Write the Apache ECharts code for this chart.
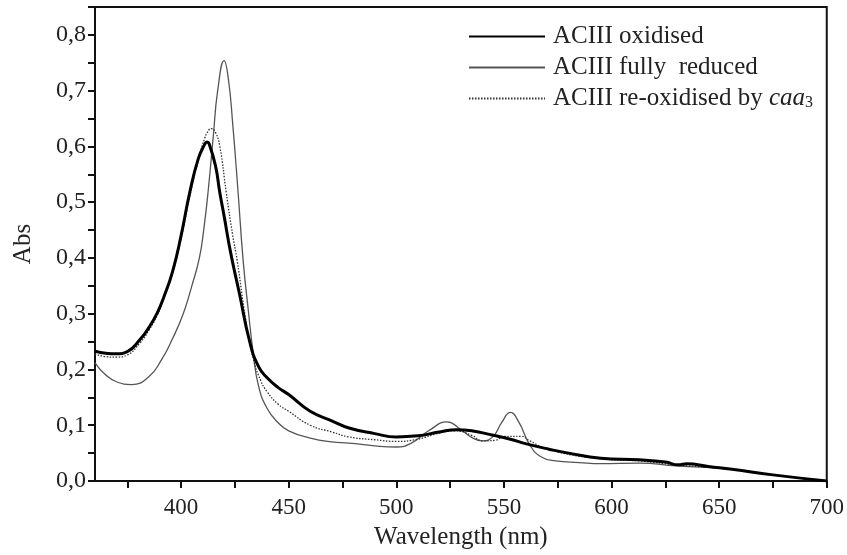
<!DOCTYPE html>
<html style="height: 100%">
<head>
	<meta charset="utf-8">
	<script type="text/javascript" src="https://cdn.jsdelivr.net/npm/echarts@6/dist/echarts.min.js"></script>
	<style>
		#container{
			width: 847px;
			height: 555px;
		}
	</style>
</head>
<body style="height: 100%; margin: 0">
	<div id="container"></div>
	<script type="text/javascript">
		// tick positions / labels
		var xTicks = [375, 400, 425, 450, 475, 500, 525, 550, 575, 600, 625, 650, 675, 700];
		var xLabels = [400, 450, 500, 550, 600, 650, 700];
		var yTicks = [0, 0.05, 0.1, 0.15, 0.2, 0.25, 0.3, 0.35, 0.4, 0.45, 0.5, 0.55, 0.6, 0.65, 0.7, 0.75, 0.8, 0.85];
		var yLabels = [0, 0.1, 0.2, 0.3, 0.4, 0.5, 0.6, 0.7, 0.8];

		var names = ['ACIII oxidised', 'ACIII fully  reduced', 'ACIII re-oxidised by caa3'];

		// ACIII oxidised (thick)
		var oxWl = [360,365,370,375,381,385,389,392,396,400,404,408,411,412,413,416,418,420,423,427,432,436,440,445,450,460,470,478,490,500,510,520,528,535,545,553,560,571,580,595,613,625,631,635,645,656,675,700];
		var oxAbs = [0.233,0.229,0.228,0.232,0.254,0.275,0.302,0.33,0.375,0.44,0.517,0.578,0.604,0.608,0.605,0.565,0.517,0.475,0.41,0.338,0.248,0.205,0.185,0.168,0.155,0.125,0.108,0.095,0.085,0.079,0.081,0.088,0.092,0.09,0.082,0.075,0.067,0.057,0.05,0.041,0.038,0.034,0.029,0.031,0.026,0.021,0.011,0.0];

		// ACIII fully reduced (thin)
		var redWl = [360,365,370,377,385,391,396,401,405,408.5,410.5,412.5,415,417,420,422,424,426.5,428.8,431.2,433.5,436,440,445,450,460,470,478,490,500,507,515,523.6,530,536,540,545,549,553,557,562,567,574,585,595,613,630,656,675,700];
		var redAbs = [0.212,0.19,0.178,0.173,0.187,0.218,0.255,0.3,0.35,0.4,0.45,0.517,0.62,0.7,0.754,0.72,0.64,0.517,0.397,0.307,0.23,0.17,0.13,0.105,0.09,0.077,0.07,0.068,0.063,0.061,0.068,0.09,0.106,0.092,0.076,0.072,0.08,0.105,0.123,0.105,0.065,0.044,0.036,0.033,0.031,0.032,0.027,0.021,0.011,0];

		// ACIII re-oxidised by caa3 (dotted)
		var reWl = [360,365,370,375,381,385,389,392,396,400,404,408,411,413,414,416,418,421,424,426,430,433.5,437,440,445,450,460,470,478,490,500,510,520,527,535,540,546,550,558,562,571,595,613,630,656,675,700];
		var reAbs = [0.228,0.223,0.222,0.226,0.248,0.27,0.298,0.328,0.372,0.435,0.51,0.575,0.615,0.63,0.632,0.625,0.6,0.517,0.44,0.397,0.29,0.22,0.18,0.16,0.138,0.125,0.1,0.088,0.079,0.074,0.071,0.075,0.086,0.09,0.082,0.072,0.073,0.08,0.08,0.072,0.056,0.04,0.036,0.029,0.021,0.011,0];

		function pairs(xs, ys) {
			var out = [];
			for (var i = 0; i < xs.length; i++) {
				out.push([xs[i], ys[i]]);
			}
			return out;
		}

		var font = 'Liberation Serif';
		var myChart = echarts.init(document.getElementById('container'));

		myChart.setOption({
			animation: false,
			backgroundColor: '#fff',
			grid: {
				left: 95,
				right: 19,
				top: 7,
				bottom: 74,
				show: true,
				borderColor: '#111',
				borderWidth: 2
			},
			legend: {
				orient: 'vertical',
				left: 463,
				top: 19,
				itemWidth: 76,
				itemHeight: 14,
				itemGap: 6,
				data: names,
				itemStyle: {opacity: 0},
				textStyle: {
					fontFamily: font,
					fontSize: 25,
					lineHeight: 25,
					color: '#222',
					padding: [0, 0, 0, 3],
					rich: {
						n: {fontFamily: font, fontSize: 25, color: '#222', lineHeight: 25},
						i: {fontFamily: font, fontSize: 25, fontStyle: 'italic', color: '#222', lineHeight: 25},
						s: {fontFamily: font, fontSize: 16, color: '#222', lineHeight: 1, verticalAlign: 'bottom', padding: [7, 0, 0, 0]}
					}
				},
				formatter: function (name) {
					if (name === names[2]) {
						return '{n|ACIII re-oxidised by }{i|caa}{s|3}';
					}
					return name;
				}
			},
			xAxis: {
				type: 'value',
				min: 360,
				max: 700,
				name: 'Wavelength (nm)',
				nameLocation: 'middle',
				nameGap: 44,
				nameTextStyle: {fontFamily: font, fontSize: 25, color: '#222', verticalAlign: 'top'},
				axisLine: {show: true, lineStyle: {color: '#111', width: 2}},
				axisTick: {show: true, inside: false, length: 7, customValues: xTicks, lineStyle: {color: '#111', width: 2}},
				axisLabel: {
					customValues: xLabels,
					margin: 15,
					fontFamily: font,
					fontSize: 23,
					color: '#222'
				},
				splitLine: {show: false}
			},
			yAxis: {
				type: 'value',
				min: 0,
				max: 0.85,
				name: 'Abs',
				nameLocation: 'middle',
				nameGap: 59,
				nameTextStyle: {fontFamily: font, fontSize: 25, color: '#222'},
				axisLine: {show: true, lineStyle: {color: '#111', width: 2}},
				axisTick: {show: true, inside: false, length: 7, customValues: yTicks, lineStyle: {color: '#111', width: 2}},
				axisLabel: {
					customValues: yLabels,
					margin: 9,
					fontFamily: font,
					fontSize: 24,
					color: '#222',
					formatter: function (v) {
						return v.toFixed(1).replace('.', ',');
					}
				},
				splitLine: {show: false}
			},
			series: [{
				name: names[0],
				type: 'line',
				symbol: 'none',
				smooth: 0.5,
				z: 3,
				lineStyle: {color: '#000', width: 3},
				itemStyle: {color: '#000'},
				data: pairs(oxWl, oxAbs)
			}, {
				name: names[1],
				type: 'line',
				symbol: 'none',
				smooth: 0.5,
				z: 2,
				lineStyle: {color: '#555', width: 1.3},
				itemStyle: {color: '#555'},
				data: pairs(redWl, redAbs)
			}, {
				name: names[2],
				type: 'line',
				symbol: 'none',
				smooth: 0.5,
				z: 2,
				lineStyle: {color: '#333', width: 1.3, type: [1.5, 1.5]},
				itemStyle: {color: '#333'},
				data: pairs(reWl, reAbs)
			}]
		});
	</script>
</body>
</html>
